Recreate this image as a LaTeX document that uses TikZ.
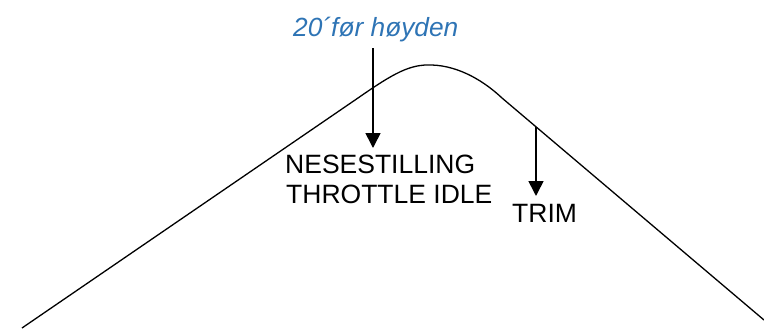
\documentclass[tikz,border=0pt]{standalone}
\usepackage{fontspec}
\setmainfont{Liberation Sans}
\usetikzlibrary{arrows.meta}
\definecolor{noteblue}{RGB}{46,116,181}
\tikzset{
  lbl/.style={anchor=base west, inner sep=0pt, font=\fontsize{26.5}{31}\selectfont},
  note/.style={lbl, text=noteblue, font=\fontsize{26.3}{31}\selectfont\itshape},
  pointer/.style={line width=1.6pt, -{Triangle[width=15pt,length=15pt]}},
  profile/.style={line width=1.3pt, line join=round}
}
\begin{document}
\begin{tikzpicture}[x=1pt,y=-1pt]
\useasboundingbox (0,0) rectangle (764,330);
% flight profile
\coordinate (p0) at (22,328);
\coordinate (p1) at (358,98);
\coordinate (p2) at (432,65);
\coordinate (p3) at (502,98);
\coordinate (p4) at (764,320);
\draw[profile] (p0) -- (p1) .. controls (394,73) and (410,64) .. (p2)
  .. controls (460,66) and (485,82) .. (p3) -- (p4);
% labels
\node[note] (n20) at (293,36) {20´før høyden};
\node[lbl] (nese) at (285,173) {NESESTILLING};
\node[lbl] (thr) at (286,203) {THROTTLE IDLE};
\node[lbl] (trim) at (512,222) {TRIM};
% arrows
\coordinate (a1s) at (373,48);
\coordinate (a1e) at (373,148);
\coordinate (a2s) at (536,127);
\coordinate (a2e) at (536,196);
\draw[pointer] (a1s) -- (a1e);
\draw[pointer] (a2s) -- (a2e);
\end{tikzpicture}
\end{document}
